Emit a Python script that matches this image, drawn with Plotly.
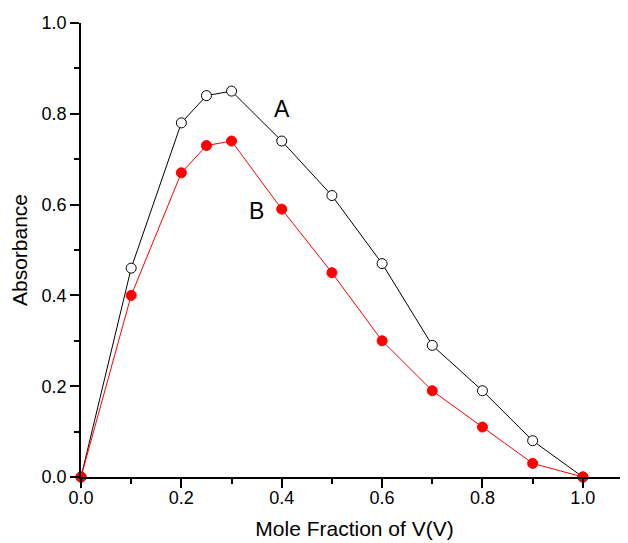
import plotly.graph_objects as go

x_vals = [0.0, 0.1, 0.2, 0.25, 0.3, 0.4, 0.5, 0.6, 0.7, 0.8, 0.9, 1.0]
abs_A = [0.0, 0.46, 0.78, 0.84, 0.85, 0.74, 0.62, 0.47, 0.29, 0.19, 0.08, 0.0]
abs_B = [0.0, 0.40, 0.67, 0.73, 0.74, 0.59, 0.45, 0.30, 0.19, 0.11, 0.03, 0.0]
tick_vals = [0.0, 0.2, 0.4, 0.6, 0.8, 1.0]
tick_text = ["0.0", "0.2", "0.4", "0.6", "0.8", "1.0"]

FONT = "Liberation Sans, Arial, sans-serif"

fig = go.Figure()
fig.add_trace(go.Scatter(
    x=x_vals, y=abs_A, mode="lines+markers",
    line=dict(color="black", width=1),
    marker=dict(symbol="circle", size=10, color="white", line=dict(color="black", width=1)),
    cliponaxis=False, showlegend=False))
fig.add_trace(go.Scatter(
    x=x_vals, y=abs_B, mode="lines+markers",
    line=dict(color="red", width=1),
    marker=dict(symbol="circle", size=10, color="red", line=dict(color="red", width=1)),
    cliponaxis=False, showlegend=False))

fig.add_annotation(x=0.40, y=0.81, text="A", showarrow=False,
                   font=dict(family=FONT, size=23, color="black"))
fig.add_annotation(x=0.35, y=0.585, text="B", showarrow=False,
                   font=dict(family=FONT, size=23, color="black"))

axis_common = dict(
    showgrid=False, zeroline=False, showline=True, linecolor="black", linewidth=1.5,
    ticks="outside", ticklen=9, tickwidth=1.5, tickcolor="black",
    tickvals=tick_vals, ticktext=tick_text,
    tickfont=dict(family=FONT, size=18, color="black"),
    minor=dict(ticks="outside", ticklen=5, tickwidth=1.5, tickcolor="black", dtick=0.1, tick0=0),
)

fig.update_layout(
    width=620, height=535,
    margin=dict(l=73, r=0, t=15, b=66, autoexpand=False),
    paper_bgcolor="white", plot_bgcolor="white",
    xaxis=dict(range=[0, 1.09], ticklabelstandoff=-5,
               title=dict(text="Mole Fraction of V(V)",
                          font=dict(family=FONT, size=21, color="black"), standoff=14),
               **axis_common),
    yaxis=dict(range=[0, 1.0], title=dict(text="Absorbance",
               font=dict(family=FONT, size=21, color="black"), standoff=10), **axis_common),
)

fig.write_html("out.html")
